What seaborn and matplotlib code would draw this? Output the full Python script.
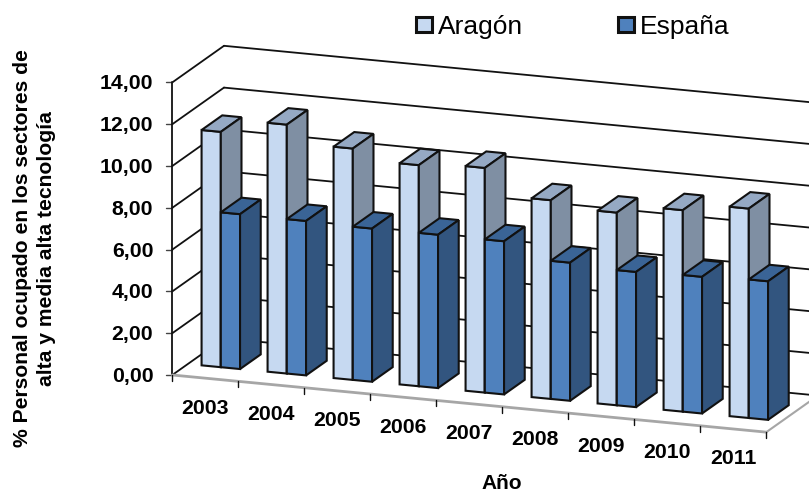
import matplotlib
matplotlib.use('Agg')
import matplotlib.pyplot as plt
import pandas as pd
import seaborn as sns
from matplotlib.patches import Polygon
from matplotlib.transforms import Affine2D, IdentityTransform

years = ['2003', '2004', '2005', '2006', '2007', '2008', '2009', '2010', '2011']
aragon = [11.26, 11.91, 11.07, 10.58, 10.75, 9.51, 9.22, 9.64, 10.02]
espana = [7.41, 7.39, 7.33, 7.34, 7.33, 6.61, 6.47, 6.54, 6.63]
y_ticks = [0, 2, 4, 6, 8, 10, 12, 14]
y_labels = ['0,00', '2,00', '4,00', '6,00', '8,00', '10,00', '12,00', '14,00']

df = pd.DataFrame({
    'year': years * 2,
    'value': aragon + espana,
    'serie': ['Aragón'] * 9 + ['España'] * 9,
})

sns.set_style('white')
plt.rcParams['font.family'] = ['Liberation Sans', 'DejaVu Sans']
plt.rcParams['text.color'] = 'black'

W, H = 809, 494
# oblique look of the Excel 3D chart, in pixels
X0, Y0 = 172.3, 375.0
STEP_X, STEP_Y = 66.0, 6.35
UNIT = 20.9
DEPTH_X, DEPTH_Y = 51.7, -36.6
BAR_FRONT, BAR_BACK = 0.3, 0.7
INK = '#111111'
EDGE = 1.5


def proj(v):
    # (category, value) at depth v -> display pixels
    return Affine2D.from_values(
        STEP_X, -STEP_Y,
        0, UNIT,
        X0 + STEP_X / 2 + DEPTH_X * v, H - (Y0 + STEP_Y / 2 + DEPTH_Y * v),
    )


def pt(x, val, v):
    return proj(v).transform((x, val))


fig = plt.figure(figsize=(W / 100, H / 100), dpi=100)
ax = fig.add_axes([0, 0, 1, 1])
sns.barplot(data=df, x='year', y='value', hue='serie', ax=ax, width=0.583, gap=0,
            palette=['#C6D9F1', '#4F81BD'], edgecolor=INK, linewidth=EDGE, saturation=1,
            err_kws={'linewidth': 0})
ax.set_xlim(-0.5, 8.5)
ax.set_ylim(0, 14)
px = IdentityTransform()

# walls
for val in y_ticks:
    ax.plot([-0.5, 8.5], [val, val], color=INK, lw=1.3, transform=proj(1), clip_on=False, zorder=1)
    a, b = pt(-0.5, val, 0), pt(-0.5, val, 1)
    ax.plot([a[0], b[0]], [a[1], b[1]], color=INK, lw=1.3, transform=px, clip_on=False, zorder=1)
    ax.plot([a[0] - 6, a[0]], [a[1], a[1]], color='#444444', lw=1.0, transform=px, clip_on=False, zorder=1)
    ax.text(a[0] - 19, a[1] - 1.5, y_labels[y_ticks.index(val)], ha='right', va='center',
            fontsize=15.3, fontweight='bold', transform=px)
ax.plot([-0.5, -0.5], [0, 14], color=INK, lw=1.3, transform=proj(0), clip_on=False, zorder=2)

# floor edges
ax.plot([-0.5, 8.5], [0, 0], color='#A6A6A6', lw=2, transform=proj(0), clip_on=False, zorder=2)
a, b = pt(8.5, 0, 0), pt(8.5, 0, 1)
ax.plot([a[0], b[0]], [a[1], b[1]], color='#A6A6A6', lw=1.5, transform=px, clip_on=False, zorder=2)
for i in range(10):
    a = pt(i - 0.5, 0, 0)
    ax.plot([a[0], a[0]], [a[1], a[1] - 6], color=INK, lw=1.0, transform=px, clip_on=False, zorder=2)

# bars: seaborn draws the fronts, top and side faces are added on them
top_cols = ['#95A9C4', '#3A6496']
side_cols = ['#7F8FA3', '#32557F']
for s, cont in enumerate(ax.containers):
    for i, rect in enumerate(cont.patches):
        z = 5 + i * 4 + s * 2
        x0, x1, val = rect.get_x(), rect.get_x() + rect.get_width(), rect.get_height()
        rect.set_transform(proj(BAR_FRONT))
        rect.set_clip_on(False)
        rect.set_zorder(z)
        top = [pt(x0, val, BAR_FRONT), pt(x1, val, BAR_FRONT), pt(x1, val, BAR_BACK), pt(x0, val, BAR_BACK)]
        side = [pt(x1, 0, BAR_FRONT), pt(x1, 0, BAR_BACK), pt(x1, val, BAR_BACK), pt(x1, val, BAR_FRONT)]
        for verts, col in ((top, top_cols[s]), (side, side_cols[s])):
            ax.add_patch(Polygon(verts, closed=True, facecolor=col, edgecolor=INK, lw=EDGE,
                                 transform=px, clip_on=False, zorder=z + 1))

# category labels
for i, lab in enumerate(years):
    a = pt(i, 0, 0)
    ax.text(a[0], a[1] - 30, lab, ha='center', va='center', fontsize=15.3, fontweight='bold',
            transform=px)

ax.text(502, H - 483, 'Año', ha='center', va='center', fontsize=15, fontweight='bold', transform=px)
ax.text(34.5, H - 248.5, '% Personal ocupado en los sectores de\nalta y media alta tecnología',
        rotation=90, ha='center', va='center', ma='center', fontsize=15.2, fontweight='bold',
        linespacing=1.35, transform=px)

sns.move_legend(ax, 'center left', bbox_to_anchor=(416, H - 27), bbox_transform=px, ncol=2,
                title=None, frameon=False, fontsize=19, handlelength=0.62, handleheight=0.5,
                handletextpad=0.2, columnspacing=3.6, borderpad=0, borderaxespad=0,
                labelcolor='black')
for h in ax.get_legend().legend_handles:
    h.set_linewidth(2.2)

ax.set_axis_off()
fig.savefig('out.png', dpi=100)
